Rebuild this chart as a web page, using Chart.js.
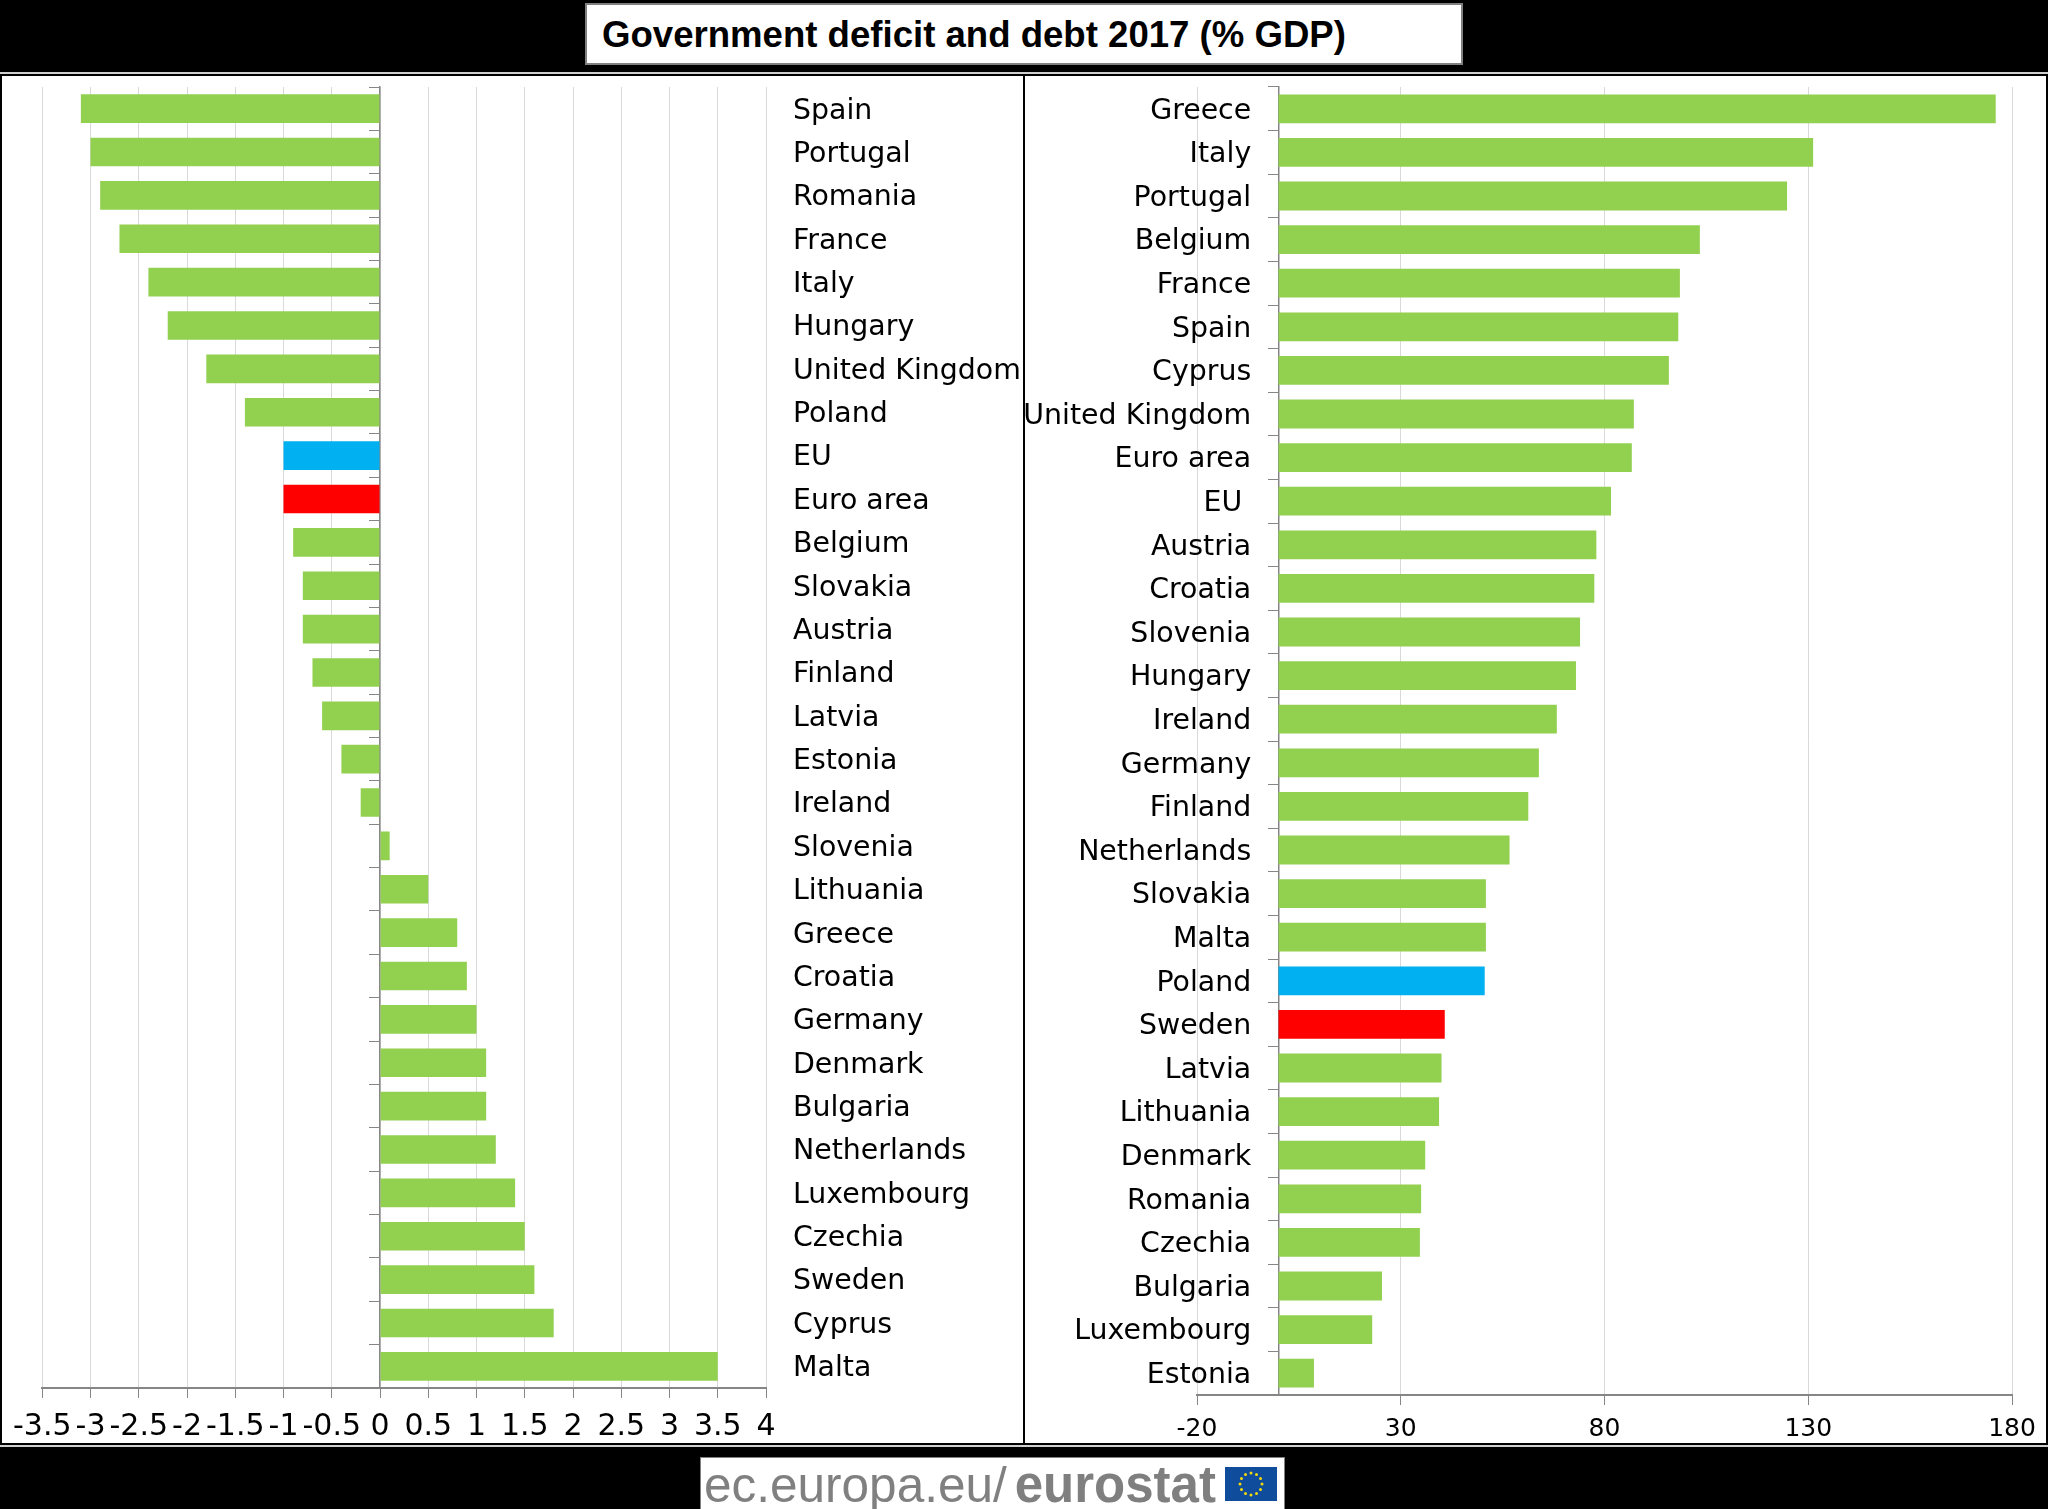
<!DOCTYPE html>
<html>
<head>
<meta charset="utf-8">
<title>Government deficit and debt 2017</title>
<script src="https://cdn.jsdelivr.net/npm/chart.js@4/dist/chart.umd.min.js"></script>
<style>
  html, body { margin: 0; padding: 0; background: #000; }
  body { position: relative; width: 2048px; height: 1509px; overflow: hidden; }
  .titleBox { position: absolute; left: 585px; top: 3px; width: 878px; height: 62px; box-sizing: border-box;
    background: #fff; border: 2px solid #808080; font: bold 36.6px "Liberation Sans", sans-serif; line-height: 60px;
    padding-left: 15px; color: #000; white-space: nowrap; }
  .rule { position: absolute; left: 0; width: 2048px; height: 2px; background: #d0d0d0; }
  .panel { position: absolute; top: 76px; height: 1367px; background: #fff; }
  .panel canvas { position: absolute; left: 0; top: 0; }
  .logo { position: absolute; left: 700px; top: 1457px; width: 585px; height: 52px; box-sizing: border-box; background: #fff;
    border: 1px solid #808080; border-bottom: 0; font: 49.5px "Liberation Sans", sans-serif; line-height: 54px; color: #808080;
    padding-left: 3px; white-space: nowrap; }
  .logo b { color: #7f7f7f; font-size: 51px; margin-left: 8px; }
  .logo svg { position: absolute; left: 524px; top: 9px; }
</style>
</head>
<body>
<div class="titleBox">Government deficit and debt 2017 (% GDP)</div>
<div class="rule" style="top:72px"></div>
<div class="rule" style="top:1445px"></div>
<div class="panel" style="left:2px;width:1021px"><canvas id="deficitChart" width="1021" height="1367"></canvas></div>
<div class="panel" style="left:1025px;width:1021px"><canvas id="debtChart" width="1021" height="1367"></canvas></div>
<div class="logo">ec.europa.eu/<b>eurostat</b>
  <svg width="52" height="34" viewBox="-26 -17 52 34"><rect x="-26" y="-17" width="52" height="34" fill="#0f4c9c"/>
    <g fill="#f5d90a" id="stars"></g></svg>
</div>
<script>
const deficitCountries = ['Spain','Portugal','Romania','France','Italy','Hungary','United Kingdom','Poland','EU','Euro area','Belgium','Slovakia','Austria','Finland','Latvia','Estonia','Ireland','Slovenia','Lithuania','Greece','Croatia','Germany','Denmark','Bulgaria','Netherlands','Luxembourg','Czechia','Sweden','Cyprus','Malta'];
const deficitValues = [-3.1,-3.0,-2.9,-2.7,-2.4,-2.2,-1.8,-1.4,-1.0,-1.0,-0.9,-0.8,-0.8,-0.7,-0.6,-0.4,-0.2,0.1,0.5,0.8,0.9,1.0,1.1,1.1,1.2,1.4,1.5,1.6,1.8,3.5];
const deficitTicks = [-3.5,-3,-2.5,-2,-1.5,-1,-0.5,0,0.5,1,1.5,2,2.5,3,3.5,4];

const debtCountries = ['Greece','Italy','Portugal','Belgium','France','Spain','Cyprus','United Kingdom','Euro area','EU ','Austria','Croatia','Slovenia','Hungary','Ireland','Germany','Finland','Netherlands','Slovakia','Malta','Poland','Sweden','Latvia','Lithuania','Denmark','Romania','Czechia','Bulgaria','Luxembourg','Estonia'];
const debtValues = [176,131.2,124.8,103.4,98.5,98.1,95.8,87.2,86.7,81.6,78,77.5,74,73,68.3,63.9,61.3,56.7,50.9,50.9,50.6,40.8,40,39.4,36,35,34.7,25.4,23,8.7];
const debtTicks = [-20,30,80,130,180];

const GREEN = '#92d050', BLUE = '#00b0f0', RED = '#ff0000';
const AXIS_GREY = '#868686', GRID_GREY = '#d9d9d9';
const LABEL_FONT = 'DejaVu Sans';

Chart.defaults.animation = false;
Chart.defaults.responsive = false;

function barChart(id, labels, values, ticks, opts) {
    return new Chart(document.getElementById(id), {
        type: 'bar',
        data: {
            labels: labels,
            datasets: [{
                data: values,
                // the two highlighted rows sit at different places in each ranking
                backgroundColor: labels.map((_, i) => i === opts.blueRow ? BLUE : i === opts.redRow ? RED : GREEN),
                barPercentage: 0.66,
                categoryPercentage: 1
            }]
        },
        options: {
            indexAxis: 'y',
            layout: { padding: opts.padding },
            plugins: { legend: { display: false }, title: { display: false }, tooltip: { enabled: false } },
            scales: {
                x: {
                    min: ticks[0],
                    max: ticks[ticks.length - 1],
                    afterBuildTicks: s => { s.ticks = ticks.map(value => ({ value })); },
                    afterFit: s => { s.height = opts.xHeight; },
                    border: { color: AXIS_GREY, width: 2 },
                    grid: { color: GRID_GREY, lineWidth: 1, tickColor: AXIS_GREY, tickLength: 10 },
                    ticks: {
                        autoSkip: false, maxRotation: 0, minRotation: 0, padding: opts.xPad, color: '#000',
                        font: { family: LABEL_FONT, size: opts.xFont },
                        callback: v => String(v)
                    }
                },
                y: {
                    position: { x: 0 },
                    border: { color: AXIS_GREY, width: 1.5 },
                    grid: { drawOnChartArea: false, color: AXIS_GREY, tickLength: 10 },
                    ticks: { display: false, autoSkip: false }
                },
                labelAxis: {
                    axis: 'y',
                    type: 'category',
                    labels: labels,
                    offset: true,
                    position: opts.labelPosition,
                    // long labels must not eat into the plot height
                    afterFit: s => {
                        s.paddingTop = 0;
                        s.paddingBottom = 0;
                        if (opts.labelWidth) s.width = opts.labelWidth;
                    },
                    border: { display: false },
                    grid: { display: false },
                    ticks: { autoSkip: false, padding: opts.labelPad, labelOffset: 2.5, color: '#000', font: { family: LABEL_FONT, size: 28.4 } }
                }
            }
        }
    });
}

barChart('deficitChart', deficitCountries, deficitValues, deficitTicks, {
    blueRow: 8, redRow: 9,
    padding: { left: 40, top: 11, right: 0, bottom: 0 },
    xHeight: 55, xPad: 11, xFont: 30,
    labelPosition: 'right', labelWidth: 257, labelPad: 19
});

barChart('debtChart', debtCountries, debtValues, debtTicks, {
    blueRow: 20, redRow: 21,
    padding: { left: 172, top: 11, right: 34, bottom: 0 },
    xHeight: 48, xPad: 9, xFont: 25,
    labelPosition: { x: -6.7 }, labelPad: 0
});

// flag stars on the logo
const stars = document.getElementById('stars');
for (let i = 0; i < 12; i++) {
    const a = i * Math.PI / 6;
    const c = document.createElementNS('http://www.w3.org/2000/svg', 'circle');
    c.setAttribute('cx', 11 * Math.cos(a));
    c.setAttribute('cy', 11 * Math.sin(a));
    c.setAttribute('r', 1.5);
    stars.appendChild(c);
}
</script>
</body>
</html>
